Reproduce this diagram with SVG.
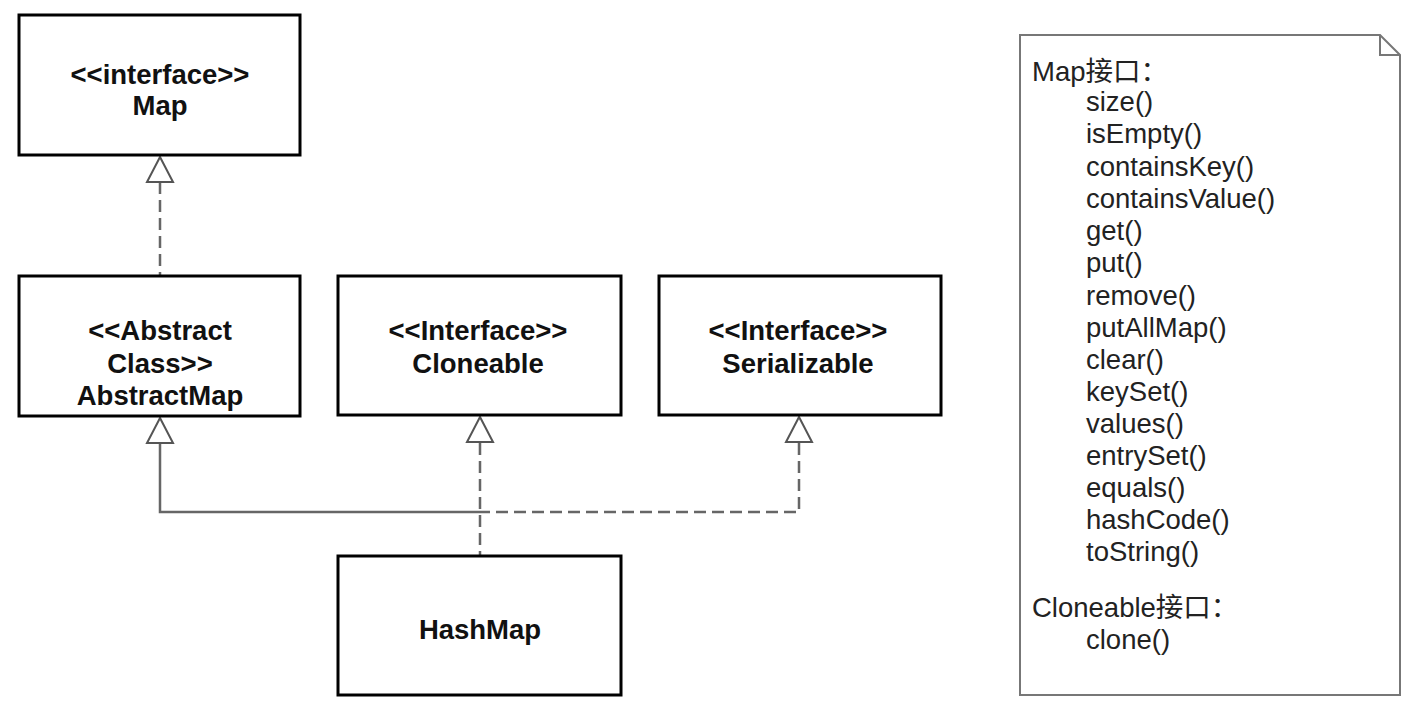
<svg xmlns="http://www.w3.org/2000/svg" width="1414" height="714" viewBox="0 0 1414 714">
<defs>
<style>
.box{fill:#fff;stroke:#000;stroke-width:3}
.t{font-family:"Liberation Sans",Arial,"Noto Sans CJK SC",sans-serif;font-weight:bold;font-size:27.5px;fill:#111;text-anchor:middle}
.n{font-family:"Liberation Sans",Arial,"Noto Sans CJK SC",sans-serif;font-size:27.5px;fill:#222}
.ln{fill:none;stroke:#666;stroke-width:2.5}
.dash{stroke-dasharray:12,6}
.tri{fill:#fff;stroke:#555;stroke-width:2}
</style>
</defs>
<rect width="1414" height="714" fill="#fff"/>
<g id="connectors">
<path class="ln dash" d="M160 182 V276"/>
<path class="ln" d="M160 443 V512 H480"/>
<path class="ln dash" d="M480 443 V556"/>
<path class="ln dash" d="M799 443 V512 H480"/>
<path class="tri" d="M160 157 L147 182 H173 Z"/>
<path class="tri" d="M160 418 L147 443 H173 Z"/>
<path class="tri" d="M480 417 L467 442 H493 Z"/>
<path class="tri" d="M799 417 L786 442 H812 Z"/>
</g>
<g id="map">
<rect class="box" x="19" y="15" width="281" height="140"/>
<text class="t" x="160" y="84">&lt;&lt;interface&gt;&gt;</text>
<text class="t" x="160" y="115">Map</text>
</g>
<g id="abstractmap">
<rect class="box" x="19" y="276" width="281" height="140"/>
<text class="t" x="160" y="340">&lt;&lt;Abstract</text>
<text class="t" x="160" y="373">Class&gt;&gt;</text>
<text class="t" x="160" y="405">AbstractMap</text>
</g>
<g id="cloneable">
<rect class="box" x="338" y="276" width="283" height="139"/>
<text class="t" x="478" y="340">&lt;&lt;Interface&gt;&gt;</text>
<text class="t" x="478" y="373">Cloneable</text>
</g>
<g id="serializable">
<rect class="box" x="659" y="276" width="282" height="139"/>
<text class="t" x="798" y="340">&lt;&lt;Interface&gt;&gt;</text>
<text class="t" x="798" y="373">Serializable</text>
</g>
<g id="hashmap">
<rect class="box" x="338" y="556" width="283" height="139"/>
<text class="t" x="480" y="639">HashMap</text>
</g>
<g id="note">
<path d="M1020 35 H1380 L1400 55 V695 H1020 Z" fill="#fff" stroke="#777" stroke-width="2"/>
<path d="M1380 35 V55 H1400" fill="none" stroke="#777" stroke-width="2"/>
<text class="n" x="1032" y="81">Map接口：</text>
<text class="n" x="1086" y="111">size()</text>
<text class="n" x="1086" y="143">isEmpty()</text>
<text class="n" x="1086" y="176">containsKey()</text>
<text class="n" x="1086" y="208">containsValue()</text>
<text class="n" x="1086" y="240">get()</text>
<text class="n" x="1086" y="272">put()</text>
<text class="n" x="1086" y="305">remove()</text>
<text class="n" x="1086" y="337">putAllMap()</text>
<text class="n" x="1086" y="369">clear()</text>
<text class="n" x="1086" y="401">keySet()</text>
<text class="n" x="1086" y="433">values()</text>
<text class="n" x="1086" y="465">entrySet()</text>
<text class="n" x="1086" y="497">equals()</text>
<text class="n" x="1086" y="529">hashCode()</text>
<text class="n" x="1086" y="561">toString()</text>
<text class="n" x="1032" y="617">Cloneable接口：</text>
<text class="n" x="1086" y="649">clone()</text>
</g>
</svg>
